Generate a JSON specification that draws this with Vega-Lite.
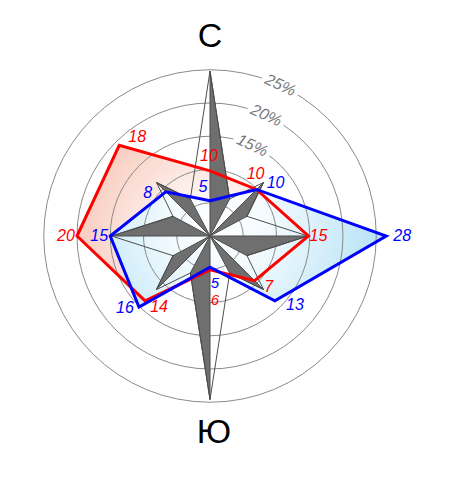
{
  "$schema": "https://vega.github.io/schema/vega-lite/v6.json",
  "width": 420,
  "height": 472,
  "autosize": "none",
  "padding": 0,
  "background": "white",
  "config": {"view": {"stroke": null}},
  "datasets": {
    "series": [
      {"s": "red", "d": "N", "a": 0, "v": 10, "r": 9.8},
      {"s": "red", "d": "NE", "a": 45, "v": 10, "r": 9.9},
      {"s": "red", "d": "E", "a": 90, "v": 15, "r": 14.8},
      {"s": "red", "d": "SE", "a": 135, "v": 7, "r": 9.5},
      {"s": "red", "d": "S", "a": 180, "v": 6, "r": 5.1},
      {"s": "red", "d": "SW", "a": 225, "v": 14, "r": 13.8},
      {"s": "red", "d": "W", "a": 270, "v": 20, "r": 20},
      {"s": "red", "d": "NW", "a": 315, "v": 18, "r": 19.3},
      {"s": "blue", "d": "N", "a": 0, "v": 5, "r": 5.3},
      {"s": "blue", "d": "NE", "a": 45, "v": 10, "r": 9.9},
      {"s": "blue", "d": "E", "a": 90, "v": 28, "r": 26.5},
      {"s": "blue", "d": "SE", "a": 135, "v": 13, "r": 13.8},
      {"s": "blue", "d": "S", "a": 180, "v": 5, "r": 4.7},
      {"s": "blue", "d": "SW", "a": 225, "v": 16, "r": 15.1},
      {"s": "blue", "d": "W", "a": 270, "v": 15, "r": 15},
      {"s": "blue", "d": "NW", "a": 315, "v": 8, "r": 9.4}
    ],
    "rings": [{"pct": 5}, {"pct": 10}, {"pct": 15}, {"pct": 20}, {"pct": 25}],
    "star": [
      {"tri": "N", "seq": 0, "a": 0, "r": 0}, {"tri": "N", "seq": 1, "a": 0, "r": 24.8}, {"tri": "N", "seq": 2, "a": 28, "r": 6.3},
      {"tri": "NE", "seq": 0, "a": 0, "r": 0}, {"tri": "NE", "seq": 1, "a": 45, "r": 11.4}, {"tri": "NE", "seq": 2, "a": 62, "r": 6.3},
      {"tri": "E", "seq": 0, "a": 0, "r": 0}, {"tri": "E", "seq": 1, "a": 90, "r": 14.7}, {"tri": "E", "seq": 2, "a": 118, "r": 6.3},
      {"tri": "SE", "seq": 0, "a": 0, "r": 0}, {"tri": "SE", "seq": 1, "a": 135, "r": 11.4}, {"tri": "SE", "seq": 2, "a": 152, "r": 6.3},
      {"tri": "S", "seq": 0, "a": 0, "r": 0}, {"tri": "S", "seq": 1, "a": 180, "r": 24.6}, {"tri": "S", "seq": 2, "a": 208, "r": 6.3},
      {"tri": "SW", "seq": 0, "a": 0, "r": 0}, {"tri": "SW", "seq": 1, "a": 225, "r": 11.4}, {"tri": "SW", "seq": 2, "a": 242, "r": 6.3},
      {"tri": "W", "seq": 0, "a": 0, "r": 0}, {"tri": "W", "seq": 1, "a": 270, "r": 14.8}, {"tri": "W", "seq": 2, "a": 298, "r": 6.3},
      {"tri": "NW", "seq": 0, "a": 0, "r": 0}, {"tri": "NW", "seq": 1, "a": 315, "r": 11.4}, {"tri": "NW", "seq": 2, "a": 332, "r": 6.3}
    ],
    "compass": [{"t": "С"}, {"t": "Ю"}]
  },
  "layer": [
    {
      "data": {"name": "series"},
      "transform": [
        {"filter": "datum.s == 'red'"},
        {"calculate": "datum.r * sin(datum.a * PI / 180)", "as": "x"},
        {"calculate": "datum.r * cos(datum.a * PI / 180)", "as": "y"}
      ],
      "mark": {"type": "line", "interpolate": "linear-closed", "strokeWidth": 0, "stroke": "transparent",
        "fill": {"gradient": "radial", "x1": 0.575, "y1": 0.585, "r1": 0, "x2": 0.575, "y2": 0.585, "r2": 0.75,
          "stops": [{"offset": 0, "color": "#ffffff"}, {"offset": 0.15, "color": "#ffffff"}, {"offset": 1, "color": "#f6b9a6"}]}},
      "encoding": {
        "x": {"field": "x", "type": "quantitative", "scale": {"domain": [-31.579, 31.579], "nice": false, "zero": false}, "axis": null},
        "y": {"field": "y", "type": "quantitative", "scale": {"domain": [-35.489, 35.489], "nice": false, "zero": false}, "axis": null},
        "order": {"field": "a", "type": "quantitative"}
      }
    },
    {
      "data": {"name": "series"},
      "transform": [
        {"filter": "datum.s == 'blue'"},
        {"calculate": "datum.r * sin(datum.a * PI / 180)", "as": "x"},
        {"calculate": "datum.r * cos(datum.a * PI / 180)", "as": "y"}
      ],
      "mark": {"type": "line", "interpolate": "linear-closed", "strokeWidth": 0, "stroke": "transparent",
        "fill": {"gradient": "radial", "x1": 0.4, "y1": 0.4, "r1": 0, "x2": 0.4, "y2": 0.4, "r2": 0.58,
          "stops": [{"offset": 0, "color": "#ffffff"}, {"offset": 0.3, "color": "#f4fbfe"}, {"offset": 1, "color": "#b7e3f6"}]}},
      "encoding": {
        "x": {"field": "x", "type": "quantitative", "axis": null},
        "y": {"field": "y", "type": "quantitative", "axis": null},
        "order": {"field": "a", "type": "quantitative"}
      }
    },
    {
      "data": {"name": "rings"},
      "mark": {"type": "point", "shape": "circle", "filled": false, "fill": null, "stroke": "#8a8a8a", "strokeWidth": 1, "opacity": 1},
      "encoding": {
        "x": {"datum": 0, "type": "quantitative", "axis": null},
        "y": {"datum": 0, "type": "quantitative", "axis": null},
        "size": {"field": "pct", "type": "quantitative", "scale": {"type": "pow", "exponent": 2, "domain": [0, 25], "range": [0, 110556], "zero": true}, "legend": null}
      }
    },
    {
      "data": {"name": "rings"},
      "transform": [
        {"filter": "datum.pct >= 15"},
        {"calculate": "datum.pct + '%'", "as": "lbl"},
        {"calculate": "datum.pct * sin(25 * PI / 180)", "as": "x"},
        {"calculate": "datum.pct * cos(25 * PI / 180)", "as": "y"}
      ],
      "mark": {"type": "text", "angle": 25, "font": "Liberation Sans", "fontSize": 16, "fontStyle": "italic", "stroke": "white", "strokeWidth": 9, "fill": "white", "align": "center", "baseline": "middle"},
      "encoding": {
        "x": {"field": "x", "type": "quantitative", "axis": null},
        "y": {"field": "y", "type": "quantitative", "axis": null},
        "text": {"field": "lbl"}
      }
    },
    {
      "data": {"name": "rings"},
      "transform": [
        {"filter": "datum.pct >= 15"},
        {"calculate": "datum.pct + '%'", "as": "lbl"},
        {"calculate": "datum.pct * sin(25 * PI / 180)", "as": "x"},
        {"calculate": "datum.pct * cos(25 * PI / 180)", "as": "y"}
      ],
      "mark": {"type": "text", "angle": 25, "font": "Liberation Sans", "fontSize": 16, "fontStyle": "italic", "fill": "#7a7a7a", "align": "center", "baseline": "middle"},
      "encoding": {
        "x": {"field": "x", "type": "quantitative", "axis": null},
        "y": {"field": "y", "type": "quantitative", "axis": null},
        "text": {"field": "lbl"}
      }
    },
    {
      "data": {"name": "star"},
      "transform": [
        {"calculate": "datum.r * sin(datum.a * PI / 180)", "as": "x"},
        {"calculate": "datum.r * cos(datum.a * PI / 180)", "as": "y"}
      ],
      "mark": {"type": "line", "interpolate": "linear-closed", "fill": "#6f6f6f", "stroke": "#4d4d4d", "strokeWidth": 1, "strokeJoin": "miter"},
      "encoding": {
        "x": {"field": "x", "type": "quantitative", "axis": null},
        "y": {"field": "y", "type": "quantitative", "axis": null},
        "detail": {"field": "tri"},
        "order": {"field": "seq", "type": "quantitative"}
      }
    },
    {
      "data": {"name": "star"},
      "transform": [
        {"filter": "datum.seq > 0"},
        {"calculate": "datum.r * sin(datum.a * PI / 180)", "as": "x"},
        {"calculate": "datum.r * cos(datum.a * PI / 180)", "as": "y"}
      ],
      "mark": {"type": "line", "interpolate": "linear-closed", "stroke": "#4d4d4d", "strokeWidth": 1, "strokeJoin": "miter"},
      "encoding": {
        "x": {"field": "x", "type": "quantitative", "axis": null},
        "y": {"field": "y", "type": "quantitative", "axis": null},
        "order": {"field": "a", "type": "quantitative"}
      }
    },
    {
      "data": {"name": "series"},
      "transform": [
        {"calculate": "datum.r * sin(datum.a * PI / 180)", "as": "x"},
        {"calculate": "datum.r * cos(datum.a * PI / 180)", "as": "y"}
      ],
      "mark": {"type": "line", "interpolate": "linear-closed", "strokeWidth": 3, "strokeJoin": "miter"},
      "encoding": {
        "x": {"field": "x", "type": "quantitative", "axis": null},
        "y": {"field": "y", "type": "quantitative", "axis": null},
        "color": {"field": "s", "type": "nominal", "scale": {"domain": ["red", "blue"], "range": ["#ff0000", "#0000ff"]}, "legend": null},
        "order": {"field": "a", "type": "quantitative"}
      }
    },
    {
      "data": {"name": "series"},
      "transform": [
        {"filter": "(datum.s == 'red' && (datum.d == 'N' || datum.d == 'NE'))"},
        {"calculate": "datum.r * sin(datum.a * PI / 180)", "as": "x"},
        {"calculate": "datum.r * cos(datum.a * PI / 180)", "as": "y"}
      ],
      "mark": {"type": "text", "dx": -1, "dy": -15, "font": "Liberation Sans", "fontSize": 16, "fontStyle": "italic", "align": "center", "baseline": "middle"},
      "encoding": {"x": {"field": "x", "type": "quantitative", "axis": null}, "y": {"field": "y", "type": "quantitative", "axis": null}, "text": {"field": "v"}, "color": {"field": "s", "type": "nominal", "legend": null}}
    },
    {
      "data": {"name": "series"},
      "transform": [
        {"filter": "(datum.s == 'blue' && datum.d == 'N')"},
        {"calculate": "datum.r * sin(datum.a * PI / 180)", "as": "x"},
        {"calculate": "datum.r * cos(datum.a * PI / 180)", "as": "y"}
      ],
      "mark": {"type": "text", "dx": -7, "dy": -14, "font": "Liberation Sans", "fontSize": 16, "fontStyle": "italic", "align": "center", "baseline": "middle"},
      "encoding": {"x": {"field": "x", "type": "quantitative", "axis": null}, "y": {"field": "y", "type": "quantitative", "axis": null}, "text": {"field": "v"}, "color": {"field": "s", "type": "nominal", "legend": null}}
    },
    {
      "data": {"name": "series"},
      "transform": [
        {"filter": "(datum.s == 'blue' && datum.d == 'NE')"},
        {"calculate": "datum.r * sin(datum.a * PI / 180)", "as": "x"},
        {"calculate": "datum.r * cos(datum.a * PI / 180)", "as": "y"}
      ],
      "mark": {"type": "text", "dx": 19, "dy": -6, "font": "Liberation Sans", "fontSize": 16, "fontStyle": "italic", "align": "center", "baseline": "middle"},
      "encoding": {"x": {"field": "x", "type": "quantitative", "axis": null}, "y": {"field": "y", "type": "quantitative", "axis": null}, "text": {"field": "v"}, "color": {"field": "s", "type": "nominal", "legend": null}}
    },
    {
      "data": {"name": "series"},
      "transform": [
        {"filter": "(datum.s == 'red' && datum.d == 'E')"},
        {"calculate": "datum.r * sin(datum.a * PI / 180)", "as": "x"},
        {"calculate": "datum.r * cos(datum.a * PI / 180)", "as": "y"}
      ],
      "mark": {"type": "text", "dx": 10, "dy": 0, "font": "Liberation Sans", "fontSize": 16, "fontStyle": "italic", "align": "center", "baseline": "middle"},
      "encoding": {"x": {"field": "x", "type": "quantitative", "axis": null}, "y": {"field": "y", "type": "quantitative", "axis": null}, "text": {"field": "v"}, "color": {"field": "s", "type": "nominal", "legend": null}}
    },
    {
      "data": {"name": "series"},
      "transform": [
        {"filter": "(datum.s == 'blue' && datum.d == 'E')"},
        {"calculate": "datum.r * sin(datum.a * PI / 180)", "as": "x"},
        {"calculate": "datum.r * cos(datum.a * PI / 180)", "as": "y"}
      ],
      "mark": {"type": "text", "dx": 16, "dy": 0, "font": "Liberation Sans", "fontSize": 16, "fontStyle": "italic", "align": "center", "baseline": "middle"},
      "encoding": {"x": {"field": "x", "type": "quantitative", "axis": null}, "y": {"field": "y", "type": "quantitative", "axis": null}, "text": {"field": "v"}, "color": {"field": "s", "type": "nominal", "legend": null}}
    },
    {
      "data": {"name": "series"},
      "transform": [
        {"filter": "(datum.s == 'red' && (datum.d == 'SE' || datum.d == 'SW'))"},
        {"calculate": "datum.r * sin(datum.a * PI / 180)", "as": "x"},
        {"calculate": "datum.r * cos(datum.a * PI / 180)", "as": "y"}
      ],
      "mark": {"type": "text", "dx": 14, "dy": 6, "font": "Liberation Sans", "fontSize": 16, "fontStyle": "italic", "align": "center", "baseline": "middle"},
      "encoding": {"x": {"field": "x", "type": "quantitative", "axis": null}, "y": {"field": "y", "type": "quantitative", "axis": null}, "text": {"field": "v"}, "color": {"field": "s", "type": "nominal", "legend": null}}
    },
    {
      "data": {"name": "series"},
      "transform": [
        {"filter": "(datum.s == 'blue' && datum.d == 'SE')"},
        {"calculate": "datum.r * sin(datum.a * PI / 180)", "as": "x"},
        {"calculate": "datum.r * cos(datum.a * PI / 180)", "as": "y"}
      ],
      "mark": {"type": "text", "dx": 20, "dy": 4, "font": "Liberation Sans", "fontSize": 16, "fontStyle": "italic", "align": "center", "baseline": "middle"},
      "encoding": {"x": {"field": "x", "type": "quantitative", "axis": null}, "y": {"field": "y", "type": "quantitative", "axis": null}, "text": {"field": "v"}, "color": {"field": "s", "type": "nominal", "legend": null}}
    },
    {
      "data": {"name": "series"},
      "transform": [
        {"filter": "(datum.s == 'red' && datum.d == 'S')"},
        {"calculate": "datum.r * sin(datum.a * PI / 180)", "as": "x"},
        {"calculate": "datum.r * cos(datum.a * PI / 180)", "as": "y"}
      ],
      "mark": {"type": "text", "dx": 5, "dy": 30, "font": "Liberation Sans", "fontSize": 15, "fontStyle": "italic", "align": "center", "baseline": "middle"},
      "encoding": {"x": {"field": "x", "type": "quantitative", "axis": null}, "y": {"field": "y", "type": "quantitative", "axis": null}, "text": {"field": "v"}, "color": {"field": "s", "type": "nominal", "legend": null}}
    },
    {
      "data": {"name": "series"},
      "transform": [
        {"filter": "(datum.s == 'blue' && datum.d == 'S')"},
        {"calculate": "datum.r * sin(datum.a * PI / 180)", "as": "x"},
        {"calculate": "datum.r * cos(datum.a * PI / 180)", "as": "y"}
      ],
      "mark": {"type": "text", "dx": 5, "dy": 16, "font": "Liberation Sans", "fontSize": 15, "fontStyle": "italic", "align": "center", "baseline": "middle"},
      "encoding": {"x": {"field": "x", "type": "quantitative", "axis": null}, "y": {"field": "y", "type": "quantitative", "axis": null}, "text": {"field": "v"}, "color": {"field": "s", "type": "nominal", "legend": null}}
    },
    {
      "data": {"name": "series"},
      "transform": [
        {"filter": "datum.d == 'W'"},
        {"calculate": "datum.r * sin(datum.a * PI / 180)", "as": "x"},
        {"calculate": "datum.r * cos(datum.a * PI / 180)", "as": "y"}
      ],
      "mark": {"type": "text", "dx": -11, "dy": 0, "font": "Liberation Sans", "fontSize": 16, "fontStyle": "italic", "align": "center", "baseline": "middle"},
      "encoding": {"x": {"field": "x", "type": "quantitative", "axis": null}, "y": {"field": "y", "type": "quantitative", "axis": null}, "text": {"field": "v"}, "color": {"field": "s", "type": "nominal", "legend": null}}
    },
    {
      "data": {"name": "series"},
      "transform": [
        {"filter": "(datum.s == 'blue' && datum.d == 'SW')"},
        {"calculate": "datum.r * sin(datum.a * PI / 180)", "as": "x"},
        {"calculate": "datum.r * cos(datum.a * PI / 180)", "as": "y"}
      ],
      "mark": {"type": "text", "dx": -14, "dy": 1, "font": "Liberation Sans", "fontSize": 16, "fontStyle": "italic", "align": "center", "baseline": "middle"},
      "encoding": {"x": {"field": "x", "type": "quantitative", "axis": null}, "y": {"field": "y", "type": "quantitative", "axis": null}, "text": {"field": "v"}, "color": {"field": "s", "type": "nominal", "legend": null}}
    },
    {
      "data": {"name": "series"},
      "transform": [
        {"filter": "(datum.s == 'red' && datum.d == 'NW')"},
        {"calculate": "datum.r * sin(datum.a * PI / 180)", "as": "x"},
        {"calculate": "datum.r * cos(datum.a * PI / 180)", "as": "y"}
      ],
      "mark": {"type": "text", "dx": 18, "dy": -8, "font": "Liberation Sans", "fontSize": 16, "fontStyle": "italic", "align": "center", "baseline": "middle"},
      "encoding": {"x": {"field": "x", "type": "quantitative", "axis": null}, "y": {"field": "y", "type": "quantitative", "axis": null}, "text": {"field": "v"}, "color": {"field": "s", "type": "nominal", "legend": null}}
    },
    {
      "data": {"name": "series"},
      "transform": [
        {"filter": "(datum.s == 'blue' && datum.d == 'NW')"},
        {"calculate": "datum.r * sin(datum.a * PI / 180)", "as": "x"},
        {"calculate": "datum.r * cos(datum.a * PI / 180)", "as": "y"}
      ],
      "mark": {"type": "text", "dx": -18, "dy": 1, "font": "Liberation Sans", "fontSize": 16, "fontStyle": "italic", "align": "center", "baseline": "middle"},
      "encoding": {"x": {"field": "x", "type": "quantitative", "axis": null}, "y": {"field": "y", "type": "quantitative", "axis": null}, "text": {"field": "v"}, "color": {"field": "s", "type": "nominal", "legend": null}}
    },
    {
      "data": {"name": "compass"},
      "transform": [{"filter": "datum.t == 'С'"}],
      "mark": {"type": "text", "font": "Liberation Sans", "fontSize": 34, "fill": "#000000", "align": "center", "baseline": "middle"},
      "encoding": {
        "x": {"datum": 0, "type": "quantitative", "axis": null},
        "y": {"datum": 30, "type": "quantitative", "axis": null},
        "text": {"field": "t"}
      }
    },
    {
      "data": {"name": "compass"},
      "transform": [{"filter": "datum.t == 'Ю'"}],
      "mark": {"type": "text", "font": "Liberation Sans", "fontSize": 34, "fill": "#000000", "align": "center", "baseline": "middle", "dx": 4},
      "encoding": {
        "x": {"datum": 0, "type": "quantitative", "axis": null},
        "y": {"datum": -29.6, "type": "quantitative", "axis": null},
        "text": {"field": "t"}
      }
    }
  ]
}
